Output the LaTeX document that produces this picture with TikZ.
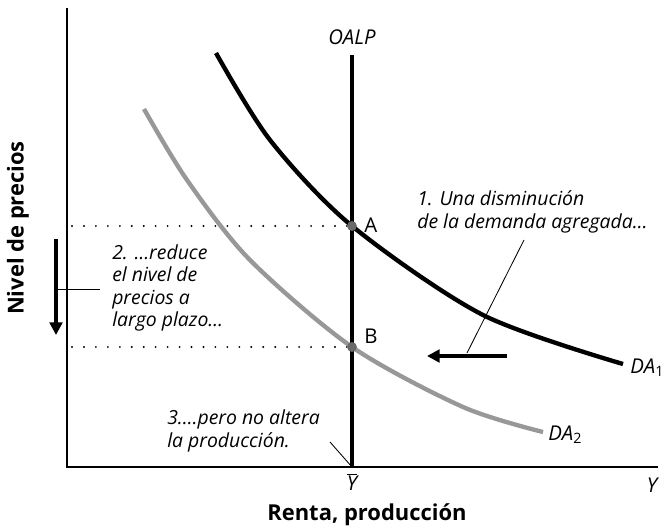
\documentclass[tikz,border=0pt]{standalone}
\usepackage{fontspec}
\setmainfont{Open Sans}
\usetikzlibrary{arrows.meta}
\definecolor{dagris}{RGB}{152,152,152}
\definecolor{ptgris}{RGB}{105,105,105}
\tikzset{
  eje/.style={line width=1pt},
  oalp/.style={line width=3.5pt},
  curva/.style={line width=3.1pt},
  punteo/.style={line width=1.5pt, dash pattern=on 0pt off 8.5pt, line cap=round},
  flecha/.style={-{Triangle[length=9pt,width=9pt]}, line width=3.5pt},
  guia/.style={line width=0.6pt},
  nota/.style={font=\itshape\fontsize{13.8}{15.8}\selectfont, align=left, inner sep=0pt},
  etq/.style={font=\fontsize{14.5}{16}\selectfont, inner sep=0pt},
  etqi/.style={font=\itshape\fontsize{14.5}{16}\selectfont, inner sep=0pt},
  tit/.style={font=\bfseries\fontsize{15.6}{17}\selectfont, inner sep=0pt},
  punto/.style={circle, fill=ptgris, inner sep=0pt, minimum size=7pt},
}
\begin{document}
\begin{tikzpicture}[x=0.025cm, y=0.025cm]
    \useasboundingbox (-67,-61) rectangle (604,467);
    % ejes
    \coordinate (O) at (0,0);
    \coordinate (ytop) at (0,459);
    \coordinate (xend) at (591,0);
    \draw[eje] (ytop) -- (O) -- (xend);
    \node[tit, rotate=90] (ylab) at (-49,239) {Nivel de precios};
    \node[tit] (xlab) at (300,-48) {Renta, producción};
    \node[etqi] (ylet) at (585,-18) {Y};
    % equilibrio
    \coordinate (A) at (285,241);
    \coordinate (B) at (285,120);
    \coordinate (pA) at (5,241);
    \coordinate (pB) at (5,120);
    \draw[punteo] (pA) -- (A);
    \draw[punteo] (pB) -- (B);
    % curvas DA
    \draw[curva, dagris] plot[smooth] coordinates {(77,358) (120,287) (183,207) (285,120) (396,60) (476,35)};
    \draw[curva] plot[smooth] coordinates {(149,414) (203,327) (285,241) (416,152) (556,103)};
    \node[etqi, anchor=west] (da1) at (563,99) {DA\textsubscript{\normalfont 1}};
    \node[etqi, anchor=west] (da2) at (481,32) {DA\textsubscript{\normalfont 2}};
    % OALP
    \coordinate (ybar) at (285,0);
    \coordinate (otop) at (285,412);
    \draw[oalp] (ybar) -- (otop);
    \node[etqi] (oalplab) at (285,430) {OALP};
    \node[etqi] (ybarlab) at (285,-15) {$\overline{\mbox{\itshape Y}}$};
    \node[punto] (pa) at (A) {};
    \node[punto] (pb) at (B) {};
    \node[etq, anchor=west] (alab) at (297,242) {A};
    \node[etq, anchor=west] (blab) at (297,131) {B};
    % 1.
    \node[nota, anchor=west] (n1) at (350,255) {1. Una disminución\\de la demanda agregada…};
    \coordinate (f1) at (440,111);
    \coordinate (f2) at (360,111);
    \draw[flecha] (f1) -- (f2);
    \coordinate (g1) at (457,227);
    \coordinate (g2) at (400,114);
    \draw[guia] (g1) -- (g2);
    % 2.
    \node[nota, anchor=west] (n2) at (45,179) {2. …reduce\\el nivel de\\precios a\\largo plazo…};
    \coordinate (d1) at (-11,228);
    \coordinate (d2) at (-11,132);
    \draw[flecha] (d1) -- (d2);
    \coordinate (h1) at (-11,178);
    \coordinate (h2) at (33,178);
    \draw[guia] (h1) -- (h2);
    % 3.
    \node[nota, anchor=west] (n3) at (100,36) {3.…pero no altera\\la producción.};
    \coordinate (k1) at (263,25);
    \draw[guia] (k1) -- (ybar);
\end{tikzpicture}
\end{document}
